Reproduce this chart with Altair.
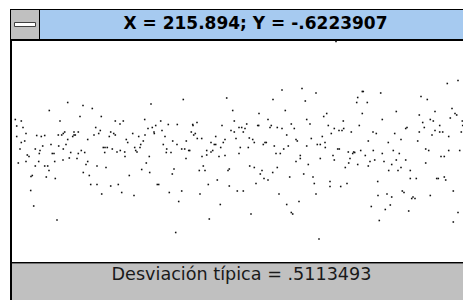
import altair as alt
import pandas as pd

# ---- data (X along the run, Y deviation) ----
X = [2.3, 8.3, 3.7, 10, 13, 3.7, 11.7, 8.3, 7, 14.3, 16, 5.3, 13, 22.3, 23.7, 28.3, 31.7, 27, 26.3, 29.7,
     18, 19.3, 22.3, 25.7, 17.7, 20.7, 31.7, 34.7, 36, 33.3, 36.3, 38, 39.3, 41, 41.7, 42.3, 44, 47, 45.3, 48.7,
     50.3, 51.7, 45.7, 50.3, 50, 53, 54.7, 54.7, 56.3, 57.7, 59.7, 61, 62.3, 61, 65.3, 67, 70, 64, 65.3, 68.3,
     71.7, 70.3, 73, 74.7, 74.7, 76.3, 77.7, 79.3, 81, 82.7, 84, 84, 85.7, 87.3, 88.3, 88.7, 90.3, 92, 94.3, 91.7,
     93, 96.3, 97.7, 97.7, 99.3, 100.7, 102.3, 102.3, 104, 105.3, 107, 107.3, 108.7, 110.3, 111.7, 112, 113.3, 114.7, 116.3, 119.7,
     121, 121.7, 122.7, 124, 125.7, 127, 127.7, 128.7, 130.3, 131.7, 132, 133.3, 135, 136.3, 136.7, 138, 139.3, 141.3, 142.7, 144.3,
     145.7, 141,
     147.7, 149, 152, 150.3, 155.3, 153.7, 153.3, 158, 159.7, 164.3, 164, 159.3, 161, 156.3, 162.7, 165.7, 168.7, 168.7, 170.3, 171.7,
     173.3, 173, 175.7, 176.7, 178.3, 179.7, 180, 180.7, 182.3, 184, 184.3, 188.7, 189, 186.3, 190.3, 192, 187, 193.7, 193.7, 195.3,
     196.3, 198, 198, 199.7, 201.3, 202.7, 202.7, 204.3, 206, 207.7, 207.3, 209, 210.3, 212, 212, 213.7, 215, 216.3, 216.3, 218,
     219.7, 221.3, 221.3, 223, 224.3, 226, 226, 227.3, 228.7, 230.3, 230.3, 232, 233.7, 235.3, 236.3, 236.7, 238, 239.7, 241.3, 241.3,
     243, 244.7, 245.7, 246, 247.3, 249, 250.3, 252, 253.3, 251, 255, 255, 257, 258.3, 259.7, 260, 261.3, 263, 264.3, 264.3,
     266, 267.3, 269, 269, 270.7, 272.3, 273.7, 273.7, 275.3, 276.7, 278.3, 278.3, 279.7, 281.3, 283, 283, 284.3, 286, 287.3, 287.3,
     289, 290.7, 292.3, 293.7, 293.7, 295.3,
     323, 303, 297, 298.3, 300, 301.3, 303, 306, 304.3, 307.3, 307.3, 309.3, 310.7, 312, 312.3, 313.7, 315.3, 317, 317, 318.3,
     320, 321.3, 321.3, 324.7, 326.3, 326, 327.7, 329, 330.3, 330.7, 332.3, 334, 335.3, 335.7, 337, 338.3, 339.7, 340.7, 341.7, 343.7,
     344.7, 344.7, 346.3, 347.7, 349.3, 350.3, 349.3, 352.3, 354.3, 355.3, 355.3, 357, 358.3, 360, 360.3, 361.7, 363.3, 364.7, 365, 366.3,
     367.7, 369.3, 369.3, 371, 372.3, 374, 375.3, 375.7, 377.3, 378.7, 378.7, 380.3, 381.7, 383.3, 383.3, 385, 386.3, 388, 388, 389.3,
     391, 392.7, 392.7, 394, 395.7, 397.3, 397.3, 398.7, 400, 402, 403.3, 404.7, 406.3, 406.3, 408, 409.7, 411.3, 412.7, 412.7, 414.3,
     415.7, 417.3, 417.3, 419, 420.3, 422, 422, 423.7, 425.3, 426.7, 426.7, 428, 429.7, 431.3, 431.3, 432.7, 434.3, 435.7, 435.7, 437.3,
     439, 440.3, 440.3, 442, 443.7, 445, 445, 446.7, 448.3, 449.3, 449.7, 451, 452.7, 454.3, 454.3, 455.7, 457]

Y = [0.64, 0.61, 0.51, 0.48, 0.36, 0.30, 0.21, 0.18, 0.05, -0.07, -0.10, -0.23, -0.20, 0.05, 0.32, 0.30, 0.32, 0.02, -0.04, 0.11,
     -0.50, -0.48, -0.29, -0.20, -0.78, -1.09, -0.29, -0.29, -0.38, -0.51, 0.82, 0.14, -0.04, -0.04, -0.20, -0.54, -1.37, 0.61, 0.33, 0.33,
     0.36, 0.39, 0.11, 0.05, -0.17, 0.14, 0.24, 0.98, -0.13, -0.02, 0.30, 0.33, 0.33, 0.39, 0.39, 0.70, 0.92, -0.14, -0.04, 0.02,
     -0.02, -0.42, -0.26, -0.20, 0.24, -0.48, -0.66, 0.86, 0.33, 0.48, -0.66, -0.29, 0.36, 0.42, 0.70, -0.85, 0.08, 0.08, 0.08, -0.02,
     -0.32, 0.30, 0.39, -0.69, 0.05, 0.36, 0.61, 0.33, -0.01, -0.66, 0.55, 0.02, -0.82, 0.61, -0.01, -0.10, 0.24, 0.18, -0.48, 0.36,
     -0.88, 0.08, 0.02, -0.01, 0.30, 0.08, 0.14, -0.36, 0.21, 0.64, 0.33, -0.23, 0.46, -0.10, -0.42, 0.95, 0.48, 0.36, 0.52, -0.66,
     -0.66, 0.39,
     0.61, 0.42, 0.30, 0.14, 0.54, 0.05, -0.02, -0.02, 0.21, 0.54, 0.14, -0.45, -0.35, -0.82, -1.62, -1.00, 0.05, -0.79, 1.04, 0.05,
     0.21, -0.14, 0.02, 0.02, 0.39, 0.54, 0.52, 0.33, 0.36, 0.58, 0.26, 0.26, -0.10, -0.38, -0.29, -0.38, -0.85, -0.07, 0.02, -0.66,
     -1.35, 0.18, -0.01, 0.02, 0.14, 0.14, 0.30, -0.57, -0.10, 0.08, -1.06, 0.52, 0.18, 0.24, -0.08, 1.07, -0.38, -0.35, -0.69, 0.42,
     0.82, 0.61, 0.39, 0.26, -0.79, -0.04, 0.48, 0.08, 0.48, 0.39, -0.79, 0.46, 0.55, 0.08, 0.27, -0.29, -1.25, 0.24, 0.18, -0.32,
     -0.64, 0.52, 0.52, 0.76, -0.45, -0.38, 0.14, 0.18, 0.18, -0.54, 0.64, -0.57, 0.48, 0.52, -0.42, 1.04, 0.11, -0.04, -0.32, 0.48,
     -0.85, -0.04, 1.23, 0.46, 0.05, 0.82, 0.33, -1.06, 0.11, -0.51, 0.55, -1.22, -1.25, 0.46, 0.24, -0.20, 0.21, -1.00, -0.08, -0.14,
     1.26, -0.45, 1.01, 0.64, 0.11, -0.26,
     2.20, 1.17, 0.55, 0.26, -0.51, -0.64, -0.85, -1.75, 0.14, 0.14, -0.14, 0.30, 0.70, 0.18, 0.08, 0.76, 0.52, -0.60, -0.70, 0.36,
     -0.08, -0.17, 0.46, 0.05, 0.05, 0.42, -0.70, 0.42, 0.61, 0.46, -0.32, -0.64, -0.01, -0.23, -0.14, 0.39, -0.04, -0.01, -0.02, 0.98,
     1.08, -0.26, 0.52, 0.02, 1.20, 1.20, 0.76, -0.08, 0.98, 0.21, -0.29, -0.20, -1.10, 0.39, 0.02, -0.17, 0.36, -0.60, -0.88, -1.38,
     1.17, 0.64, -0.04, -0.20, -1.16, -0.85, 0.18, -0.38, -1.07, -0.91, -0.26, 0.02, 0.36, 0.80, -0.17, -0.38, -0.04, -0.32, 0.24, -0.79,
     -0.82, 0.46, -0.17, 0.48, -1.19, -0.38, -0.54, -0.94, -0.91, -0.94, -0.54, 0.21, 0.39, 0.73, 1.10, 0.58, 0.48, 0.05, -0.23, 1.04,
     0.02, -0.88, 0.64, 0.33, 0.61, 0.80, 0.42, -0.54, -0.54, 0.52, 0.39, -0.10, 0.39, -0.10, -0.51, -0.57, 1.36, 0.30, 0.02, 0.67,
     0.86, -0.79, -1.41, 0.76, 0.73, 1.42, -1.22, 0.02, 0.39, 0.61, 0.52, -0.29, 0.33, 0.73, 0.36, 0.58, 1.45]

TITLE = "X = 215.894; Y = -.6223907"
STATUS = "Desviación típica = .5113493"

# plot area: 1 X unit = 1 px, 1 Y unit = 50 px
W, H = 450, 221
X_DOMAIN = [0, W]
Y_DOMAIN = [-2.21, 2.21]
BOTTOM = 38  # padding below the plot area (status bar room)

df = pd.DataFrame({"X": X, "Y": Y})


def box(x, x2, y, y2, fill, stroke=None, sw=0):
    kw = {"color": fill, "strokeWidth": sw}
    if stroke:
        kw["stroke"] = stroke
    return alt.Chart(alt.Data(values=[{}])).mark_rect(**kw).encode(
        x=alt.value(x), x2=alt.value(x2), y=alt.value(y), y2=alt.value(y2))


def label(text, x, y, color="#000000", **kw):
    return alt.Chart(alt.Data(values=[{"t": text}])).mark_text(
        font="DejaVu Sans", color=color, align="center", baseline="alphabetic", **kw
    ).encode(x=alt.value(x), y=alt.value(y), text="t:N")


END = H + BOTTOM
RIGHT = W + 10
frame = [
    box(-3, -1, -32, END, "#000000"),              # left window border
    box(-3, RIGHT, -32, -31, "#000000"),           # top window border
    box(-2, RIGHT, -31, -2, "#a6caf0"),            # caption bar
    box(-2, 26, -31, -2, "#c0c0c0"),               # control-menu box
    box(26, 27, -31, -2, "#000000"),
    box(1.5, 22.5, -18.5, -14.5, "#ffffff", stroke="#404040", sw=1),
    box(-3, RIGHT, -2, 0, "#000000"),              # line under caption
    box(-1, RIGHT, 222.5, END, "#c0c0c0"),         # status area
    box(-3, RIGHT, 221, 222.5, "#000000"),         # line above status
]

points = alt.Chart(df).mark_square(size=2.5, color="#111111", opacity=1).encode(
    x=alt.X("X:Q", scale=alt.Scale(domain=X_DOMAIN, nice=False, zero=False), axis=None),
    y=alt.Y("Y:Q", scale=alt.Scale(domain=Y_DOMAIN, nice=False, zero=False), axis=None),
)

texts = [
    label(TITLE, 242.5, -11.7, fontSize=17, fontWeight="bold"),
    label(STATUS, 228.5, 239, color="#1a1a1a", fontSize=17.6),
]

chart = alt.layer(*frame, points, *texts).properties(
    width=W, height=H,
    padding={"left": 5, "top": 33, "right": 0, "bottom": BOTTOM},
    autosize=alt.AutoSizeParams(type="none"),
    background="#ffffff",
).configure_view(stroke=None)

chart.save("out.html", embed_options={"renderer": "svg", "actions": False})
